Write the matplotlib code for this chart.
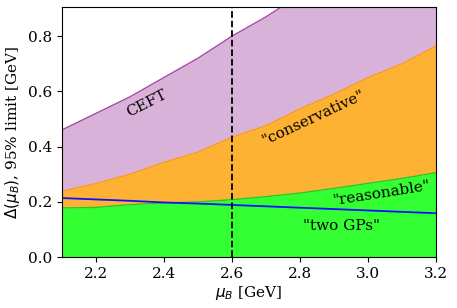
import numpy as np
import matplotlib
matplotlib.use("Agg")
import matplotlib.pyplot as plt

plt.rcParams['font.family'] = 'DejaVu Serif'
plt.rcParams['mathtext.fontset'] = 'dejavusans'

mu = [2.1, 2.2, 2.3, 2.4, 2.5, 2.6, 2.7, 2.8, 2.9, 3.0, 3.1, 3.2]
ceft = [0.46, 0.52, 0.58, 0.65, 0.72, 0.80, 0.87, 0.95, 1.03, 1.10, 1.18, 1.26]
conservative = [0.238, 0.266, 0.30, 0.343, 0.38, 0.434, 0.476, 0.537, 0.59, 0.65, 0.70, 0.765]
reasonable = [0.178, 0.18, 0.19, 0.196, 0.20, 0.208, 0.219, 0.232, 0.249, 0.267, 0.285, 0.306]
two_gps = [0.214, 0.209, 0.204, 0.198, 0.194, 0.189, 0.184, 0.179, 0.174, 0.169, 0.164, 0.159]
mu_line = 2.6

fig, ax = plt.subplots(figsize=(4.57, 3.08), dpi=100)
fig.subplots_adjust(left=0.135, right=0.955, top=0.977, bottom=0.165)

ax.fill_between(mu, conservative, ceft, color='#d9b2d9', lw=0)
ax.plot(mu, ceft, color='#a447a4', lw=1)
ax.fill_between(mu, reasonable, conservative, color='#fdb234', lw=0)
ax.plot(mu, conservative, color='#ff9a10', lw=1)
ax.fill_between(mu, 0, reasonable, color='#33ff33', lw=0)
ax.plot(mu, reasonable, color='#22cc22', lw=1)
ax.plot(mu, two_gps, color='#1010ff', lw=1.3)
ax.axvline(mu_line, color='black', ls='--', lw=1.3)

ax.set_xlim(2.1, 3.2)
ax.set_ylim(0, 0.905)
ax.set_xticks([2.2, 2.4, 2.6, 2.8, 3.0, 3.2])
ax.set_yticks([0.0, 0.2, 0.4, 0.6, 0.8])
ax.tick_params(labelsize=11)
ax.set_xlabel(r'$\mu_B$ [GeV]', fontsize=11, labelpad=2)
ax.set_ylabel(r'$\Delta(\mu_B)$, 95% limit [GeV]', fontsize=11, labelpad=4)

ax.text(2.35, 0.555, 'CEFT', rotation=27, ha='center', va='center', fontsize=11)
ax.text(2.84, 0.505, '"conservative"', rotation=25, ha='center', va='center', fontsize=11)
ax.text(3.04, 0.23, '"reasonable"', rotation=9, ha='center', va='center', fontsize=11)
ax.text(2.92, 0.114, '"two GPs"', rotation=0, ha='center', va='center', fontsize=11)

fig.savefig('out.png', dpi=100)
